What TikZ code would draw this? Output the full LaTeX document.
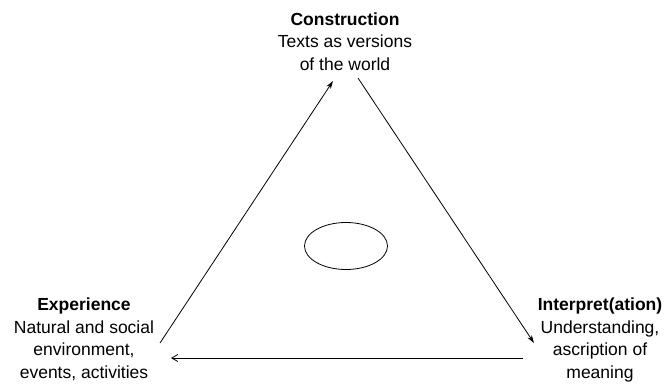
\documentclass[tikz,border=0pt]{standalone}
\usepackage{fontspec}
\setmainfont{Liberation Sans}
\usetikzlibrary{arrows.meta,shapes.geometric}
\begin{document}
\begin{tikzpicture}[x=1pt,y=-1pt,
  lbl/.style={align=center,inner sep=0pt,anchor=north,
    font=\fontsize{17.5}{22.5}\selectfont},
  edge/.style={line width=0.8pt,-{Stealth[length=8pt,width=5pt]}},
  flat/.style={line width=0.8pt,-{Straight Barb[length=6pt,width=7pt]}}]
\useasboundingbox (0,0) rectangle (665,389);
\node[lbl] (con) at (345,12.5) {\textbf{Construction}\\Texts as versions\\of the world};
\node[lbl] (exp) at (84,297.8) {\textbf{Experience}\\Natural and social\\environment,\\events, activities};
\node[lbl] (int) at (600,297.8) {\textbf{Interpret(ation)}\\Understanding,\\ascription of\\meaning};
\node[ellipse,draw,line width=0.8pt,minimum width=83pt,minimum height=47pt,inner sep=0pt] (ell) at (346,246) {};
\coordinate (l1) at (160,343);
\coordinate (l2) at (333,81);
\coordinate (r1) at (358,78);
\coordinate (r2) at (534,343);
\coordinate (b1) at (523,358);
\coordinate (b2) at (171,358);
\draw[edge] (l1) -- (l2);
\draw[edge] (r1) -- (r2);
\draw[flat] (b1) -- (b2);
\end{tikzpicture}
\end{document}
